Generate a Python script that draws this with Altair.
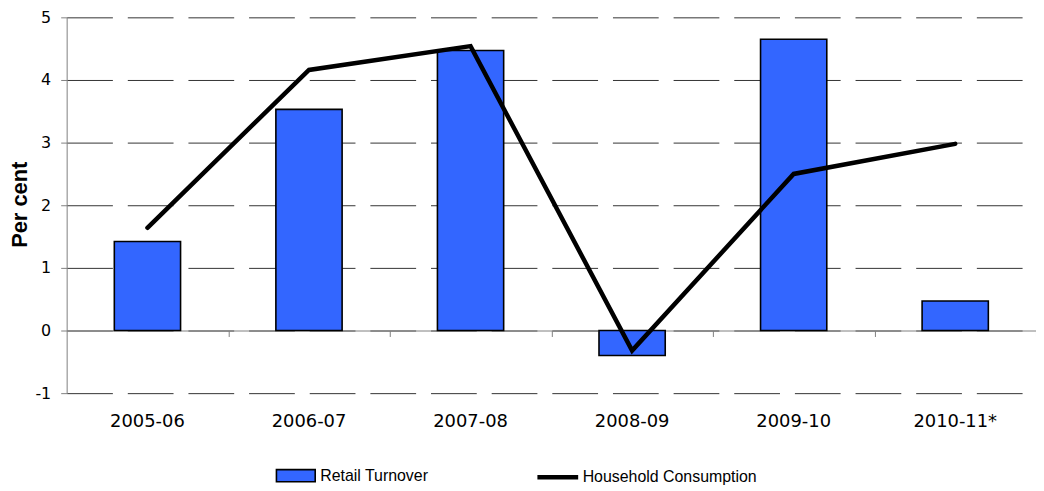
import altair as alt
import pandas as pd

categories = ["2005-06", "2006-07", "2007-08", "2008-09", "2009-10", "2010-11*"]
retail_turnover = [1.42, 3.53, 4.47, -0.40, 4.65, 0.47]
household_consumption = [1.64, 4.16, 4.54, -0.32, 2.50, 2.98]
y_ticks = [-1, 0, 1, 2, 3, 4, 5]

df = pd.DataFrame({
    "period": categories,
    "retail": retail_turnover,
    "household": household_consumption,
    "r_name": ["Retail Turnover"] * len(categories),
    "h_name": ["Household Consumption"] * len(categories),
})

W, H = 975, 378
STEP = W / 6.0
xscale = alt.Scale(domain=categories, paddingInner=0.59, paddingOuter=0.295)
yscale = alt.Scale(domain=[-1, 5], nice=False, zero=False)

TICK_FONT = "DejaVu Sans"
LEG_FONT = "Liberation Sans"

bars = alt.Chart(df).mark_bar(stroke="black", strokeWidth=1.6).encode(
    x=alt.X("period:N", scale=xscale, sort=categories,
            axis=alt.Axis(orient="bottom", title=None, domain=False, ticks=False,
                          labelAngle=0, labelFont=TICK_FONT, labelFontSize=18,
                          labelColor="black", labelPadding=20, grid=False)),
    y=alt.Y("retail:Q", scale=yscale,
            axis=alt.Axis(title="Per cent", values=y_ticks,
                          labelExpr="toString(datum.value)", grid=True,
                          gridDash=[46, 15], gridColor="#333333", gridWidth=1,
                          domainColor="#808080", tickColor="#808080", tickSize=6,
                          labelFont=TICK_FONT, labelFontSize=16, labelColor="black",
                          labelPadding=10, titleFont="Liberation Sans",
                          titleFontWeight="bold", titleFontSize=22,
                          titleColor="black", titleX=-47, titleY=H / 2 - 1,
                          titleBaseline="middle", titleAngle=270)),
    y2=alt.Y2(datum=0),
    fill=alt.Fill("r_name:N",
                  scale=alt.Scale(domain=["Retail Turnover"], range=["#3366FF"]),
                  legend=alt.Legend(orient="none", legendX=210, legendY=440.5,
                                    title=None, padding=0,
                                    symbolType="M-1,-0.31H1V0.31H-1Z",
                                    symbolSize=1521, symbolStrokeColor="black",
                                    symbolStrokeWidth=1.6, symbolOpacity=1,
                                    labelFont=LEG_FONT, labelFontSize=16,
                                    labelLimit=400,
                                    labelColor="black", labelOffset=4)),
)

line = alt.Chart(df).mark_line(color="black", strokeWidth=4.5, strokeCap="round").encode(
    x=alt.X("period:N", scale=xscale, sort=categories,
            axis=alt.Axis(orient="bottom", offset=-H / 6.0, labels=False, title=None,
                          domain=True, domainColor="#808080", ticks=True,
                          tickOffset=STEP / 2, tickSize=6, tickColor="#808080",
                          grid=False)),
    y=alt.Y("household:Q", scale=yscale),
    stroke=alt.Stroke("h_name:N",
                      scale=alt.Scale(domain=["Household Consumption"], range=["black"]),
                      legend=alt.Legend(orient="none", legendX=471, legendY=439.5,
                                        title=None, padding=0, symbolType="stroke",
                                        symbolSize=1681, symbolStrokeWidth=4.5,
                                        labelFont=LEG_FONT, labelFontSize=16,
                                        labelLimit=400,
                                        labelColor="black", labelOffset=2)),
)

chart = alt.layer(bars, line).resolve_axis(x="independent").properties(
    width=W, height=H,
    autosize=alt.AutoSizeParams(type="none"),
    padding={"left": 59, "top": 8, "right": 0, "bottom": 92},
    background="white",
).configure_view(stroke=None)

chart.save("out.html", embed_options={"renderer": "svg", "actions": False})
